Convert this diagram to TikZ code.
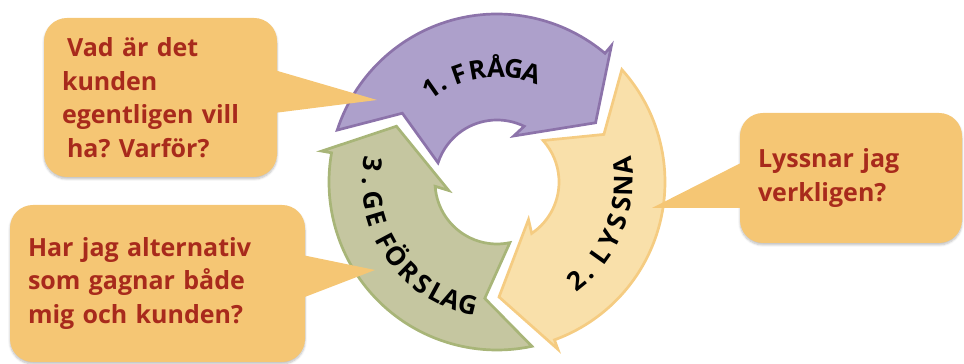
\documentclass[tikz,border=0pt]{standalone}
\usepackage{fontspec}
\setmainfont{Open Sans}
\usetikzlibrary{shadows.blur}
\definecolor{callfill}{RGB}{245,198,116}
\definecolor{calltext}{RGB}{168,42,28}
\definecolor{fragafill}{RGB}{173,160,203}
\definecolor{fragaline}{RGB}{140,115,170}
\definecolor{lyssnafill}{RGB}{249,224,170}
\definecolor{lyssnaline}{RGB}{245,204,130}
\definecolor{forslagfill}{RGB}{197,198,160}
\definecolor{forslagline}{RGB}{168,181,120}
\frenchspacing

\begin{document}
\begin{tikzpicture}[x=1pt, y=1pt,
    callout/.style={fill=callfill, rounded corners=23pt, inner xsep=18pt, inner ysep=0pt, align=left,
      font=\fontsize{25}{33.5}\selectfont\bfseries, text=calltext,
      blur shadow={shadow xshift=0pt, shadow yshift=-2pt, shadow blur steps=6, shadow opacity=25}},
    ringtext/.style={font=\fontsize{26}{26}\selectfont\bfseries, anchor=base, inner sep=0pt},
    ringarrow/.style={line width=2.7pt}]
  \useasboundingbox (0,0) rectangle (964,364);

  % the cycle
  \begin{scope}[shift={(497,182)}]
    \foreach \rot/\fc/\lc in {0/fragafill/fragaline, 120/forslagfill/forslagline, -120/lyssnafill/lyssnaline}
      \draw[ringarrow, fill=\fc, draw=\lc] (162+\rot:168pt) arc[start angle=162+\rot, end angle=50+\rot, radius=168pt]
        -- (50+\rot:178pt) -- (31+\rot:115pt) -- (70+\rot:49pt) -- (64+\rot:62pt)
        arc[start angle=64+\rot, end angle=162+\rot, radius=62pt] -- (144+\rot:117pt) -- cycle;

    \foreach \ch/\ang [count=\i] in {1/125, ./119, F/109.5, R/100, Å/90.5, G/81.5, A/72.5}
      \node[ringtext, rotate=\ang-90] (fraga\i) at (\ang:105pt) {\ch};
    \foreach \ch/\ang [count=\i] in {2/-51, ./-45, L/-35.5, Y/-27, S/-18.5, S/-10, N/-1.5, A/7.5}
      \node[ringtext, rotate=\ang+90] (lyssna\i) at (\ang:136pt) {\ch};
    \foreach \ch/\ang [count=\i] in {3/172, ./179.5, G/188.5, E/197, F/208, Ö/216.5, R/225.5, S/234, L/241.5, A/248.5, G/256.5}
      \node[ringtext, rotate=\ang+90] (forslag\i) at (\ang:135pt) {\ch};
  \end{scope}

  % the questions
  \node[callout, minimum width=233pt, minimum height=159pt, text width=197pt] (fragabox) at (160.5,266.5)
    {\hspace*{5pt}Vad är det\\kunden\\egentligen vill\\\hspace*{5pt}ha? Varför?};
  \coordinate (fragatip) at (377,264);
  \fill[callfill] ([xshift=-3pt, yshift=27.5pt]fragabox.east) -- (fragatip) -- ([xshift=-3pt, yshift=-15.5pt]fragabox.east) -- cycle;

  \node[callout, minimum width=222pt, minimum height=130pt, text width=186pt] (lyssnabox) at (851,186)
    {Lyssnar jag\\verkligen?};
  \coordinate (lyssnatip) at (652,156);
  \fill[callfill] ([xshift=3pt, yshift=16pt]lyssnabox.west) -- (lyssnatip) -- ([xshift=3pt, yshift=-30pt]lyssnabox.west) -- cycle;

  \node[callout, minimum width=295pt, minimum height=157pt, text width=259pt] (forslagbox) at (157.5,80.5)
    {Har jag alternativ\\som gagnar både\\mig och kunden?};
  \coordinate (forslagtip) at (375,94);
  \fill[callfill] ([xshift=-3pt, yshift=28.5pt]forslagbox.east) -- (forslagtip) -- ([xshift=-3pt, yshift=-14.5pt]forslagbox.east) -- cycle;
\end{tikzpicture}
\end{document}
